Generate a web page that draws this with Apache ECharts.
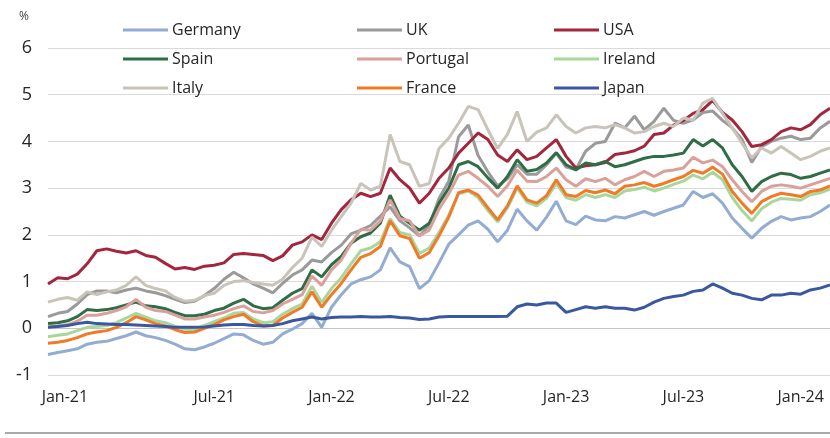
<!DOCTYPE html>
<html>
<head>
<meta charset="utf-8">
<script src="https://cdn.jsdelivr.net/npm/echarts@6/dist/echarts.min.js"></script>
<style>
  html, body { margin: 0; padding: 0; background: #fff; }
  #chart { width: 830px; height: 438px; }
</style>
</head>
<body>
<div id="chart"></div>
<script>
// half-monthly sample dates, 2020-10-16 .. 2024-02-16
var dates = [];
(function() {
  var y = 2020, m = 10, half = 1;
  while (dates.length < 81) {
    dates.push(y + '-' + (m < 10 ? '0' + m : m) + '-' + (half ? '16' : '01'));
    if (half) { half = 0; m++; if (m > 12) { m = 1; y++; } } else { half = 1; }
  }
})();

var tickDates = ['2021-01-01', '2021-07-01', '2022-01-01', '2022-07-01', '2023-01-01', '2023-07-01', '2024-01-01'];
var tickLabels = ['Jan-21', 'Jul-21', 'Jan-22', 'Jul-22', 'Jan-23', 'Jul-23', 'Jan-24'];

var germany = [-0.56,-0.52,-0.48,-0.44,-0.34,-0.30,-0.28,-0.22,-0.16,-0.08,-0.16,-0.20,-0.26,-0.34,
  -0.44,-0.46,-0.40,-0.32,-0.22,-0.12,-0.14,-0.26,-0.34,-0.30,-0.12,-0.02,0.10,0.32,
  0.02,0.45,0.72,0.95,1.04,1.10,1.25,1.72,1.42,1.32,0.85,1.02,1.40,1.80,
  2.00,2.21,2.30,2.12,1.85,2.10,2.55,2.30,2.10,2.38,2.72,2.30,2.22,
  2.40,2.32,2.30,2.39,2.36,2.43,2.50,2.42,2.50,2.57,2.64,2.93,2.80,2.88,2.68,
  2.36,2.14,1.93,2.14,2.29,2.39,2.32,2.36,2.39,2.50,2.64];
var uk = [0.25,0.32,0.36,0.52,0.72,0.80,0.80,0.76,0.82,0.86,0.80,0.76,0.70,0.62,
  0.55,0.58,0.70,0.85,1.05,1.20,1.08,0.95,0.86,0.76,0.96,1.14,1.25,1.46,
  1.42,1.62,1.78,2.02,2.10,2.20,2.40,2.60,2.30,2.15,1.98,2.20,2.78,3.15,
  4.10,4.35,3.70,3.35,3.05,3.20,3.50,3.30,3.30,3.50,3.75,3.45,3.40,
  3.79,3.96,4.00,4.39,4.29,4.54,4.25,4.43,4.71,4.45,4.39,4.46,4.62,4.65,4.45,
  4.29,4.04,3.55,3.89,4.00,4.07,4.11,4.04,4.07,4.29,4.43];
var usa = [0.95,1.08,1.06,1.16,1.38,1.66,1.70,1.65,1.61,1.66,1.56,1.52,1.39,1.27,
  1.30,1.26,1.33,1.35,1.40,1.58,1.60,1.58,1.56,1.45,1.55,1.78,1.85,2.00,
  1.90,2.25,2.54,2.75,2.89,2.82,2.89,3.43,3.18,3.00,2.68,2.89,3.21,3.43,
  3.75,3.96,4.18,4.04,3.71,3.57,3.82,3.61,3.68,3.86,4.04,3.68,3.43,
  3.48,3.50,3.55,3.72,3.75,3.80,3.90,4.15,4.18,4.35,4.45,4.60,4.68,4.88,4.62,
  4.46,4.21,3.89,3.93,4.04,4.21,4.29,4.25,4.36,4.57,4.71];
var spain = [0.10,0.12,0.16,0.25,0.40,0.38,0.40,0.44,0.50,0.56,0.48,0.46,0.42,0.34,
  0.27,0.27,0.30,0.38,0.43,0.54,0.62,0.48,0.42,0.44,0.60,0.75,0.85,1.25,
  1.10,1.36,1.54,1.82,1.96,2.04,2.25,2.85,2.40,2.25,2.10,2.25,2.68,3.00,
  3.50,3.57,3.46,3.22,3.00,3.25,3.61,3.36,3.40,3.54,3.76,3.50,3.39,
  3.54,3.50,3.57,3.46,3.50,3.57,3.64,3.68,3.68,3.71,3.75,4.04,3.90,4.04,3.86,
  3.50,3.25,2.93,3.14,3.25,3.32,3.29,3.21,3.25,3.32,3.39];
var portugal = [0.03,0.05,0.08,0.15,0.28,0.28,0.32,0.38,0.46,0.62,0.45,0.38,0.36,0.28,
  0.20,0.20,0.24,0.28,0.34,0.42,0.48,0.36,0.33,0.38,0.52,0.62,0.72,1.12,
  0.92,1.25,1.46,1.82,2.12,2.10,2.30,2.75,2.35,2.30,1.98,2.10,2.55,2.88,
  3.28,3.36,3.21,3.04,2.82,3.05,3.39,3.15,3.14,3.25,3.43,3.18,3.04,
  3.20,3.14,3.21,3.07,3.18,3.25,3.36,3.25,3.36,3.39,3.43,3.66,3.54,3.60,3.46,
  3.18,2.93,2.71,2.93,3.04,3.07,3.04,3.00,3.07,3.14,3.21];
var ireland = [-0.18,-0.15,-0.12,-0.05,0.02,0.04,0.06,0.12,0.22,0.32,0.24,0.16,0.12,0.04,
  -0.02,-0.02,0.06,0.14,0.22,0.32,0.34,0.20,0.12,0.14,0.30,0.42,0.52,0.90,
  0.55,0.85,1.08,1.38,1.66,1.72,1.85,2.35,2.05,2.00,1.60,1.72,2.05,2.42,
  2.88,2.94,2.80,2.52,2.28,2.58,3.00,2.70,2.62,2.78,3.10,2.80,2.74,
  2.86,2.80,2.86,2.80,2.94,2.97,3.02,2.94,3.00,3.08,3.15,3.28,3.20,3.34,3.18,
  2.80,2.52,2.30,2.56,2.70,2.78,2.76,2.74,2.86,2.90,2.98];
var italy = [0.56,0.62,0.66,0.60,0.78,0.72,0.78,0.82,0.92,1.10,0.92,0.85,0.80,0.66,
  0.58,0.60,0.70,0.75,0.92,1.00,1.02,0.98,0.95,0.92,1.05,1.30,1.50,1.95,
  1.75,2.10,2.39,2.68,3.10,2.96,3.04,4.15,3.57,3.50,3.04,3.10,3.85,4.07,
  4.39,4.75,4.68,4.25,3.85,4.15,4.64,4.00,4.20,4.29,4.57,4.32,4.18,
  4.29,4.32,4.29,4.36,4.29,4.18,4.21,4.32,4.39,4.32,4.50,4.46,4.82,4.92,4.60,
  4.29,3.96,3.65,3.86,3.75,3.89,3.75,3.61,3.68,3.79,3.86];
var france = [-0.32,-0.30,-0.26,-0.20,-0.12,-0.08,-0.05,0.02,0.12,0.25,0.18,0.10,0.05,-0.03,
  -0.09,-0.08,0.00,0.08,0.18,0.25,0.30,0.14,0.05,0.06,0.22,0.34,0.45,0.78,
  0.45,0.72,0.96,1.25,1.52,1.60,1.75,2.30,1.98,1.92,1.50,1.62,1.98,2.38,
  2.90,2.96,2.85,2.58,2.32,2.62,3.05,2.75,2.68,2.84,3.18,2.86,2.82,
  2.95,2.90,2.96,2.88,3.04,3.07,3.12,3.04,3.10,3.18,3.25,3.38,3.32,3.45,3.30,
  2.93,2.68,2.46,2.71,2.82,2.89,2.86,2.82,2.93,2.96,3.05];
var japan = [0.02,0.04,0.06,0.10,0.13,0.10,0.09,0.08,0.08,0.07,0.06,0.05,0.04,0.02,
  0.02,0.02,0.03,0.05,0.07,0.08,0.08,0.06,0.05,0.06,0.10,0.16,0.20,0.24,
  0.20,0.23,0.24,0.24,0.25,0.24,0.24,0.25,0.23,0.22,0.19,0.20,0.24,0.25,
  0.25,0.25,0.25,0.25,0.25,0.26,0.46,0.52,0.50,0.54,0.54,0.34,0.40,
  0.46,0.43,0.46,0.43,0.43,0.39,0.45,0.56,0.64,0.68,0.71,0.79,0.82,0.95,0.86,
  0.75,0.71,0.64,0.61,0.71,0.71,0.75,0.73,0.82,0.86,0.93];

var names = ['Germany', 'UK', 'USA', 'Spain', 'Portugal', 'Ireland', 'Italy', 'France', 'Japan'];
var values = [germany, uk, usa, spain, portugal, ireland, italy, france, japan];
var colors = ['#92acd3', '#9a9a9a', '#a3263f', '#2f6d47', '#daa09a', '#a8d69b', '#c9c4ba', '#f07a26', '#3a58a0'];

var font = '"Open Sans", sans-serif';
var ink = '#262626';

var chart = echarts.init(document.getElementById('chart'), null, { renderer: 'canvas' });

function legendCol(left, items) {
  return {
    data: items, orient: 'vertical', left: left, top: 20, padding: 0,
    itemGap: 9, itemWidth: 45, itemHeight: 3, icon: 'rect',
    textStyle: { fontFamily: font, fontSize: 16, color: ink, lineHeight: 20, padding: [0, 0, 0, -1] },
    selectedMode: false
  };
}

chart.setOption({
  animation: false,
  color: colors,
  grid: { left: 48, right: 0, top: 48, bottom: 63 },
  legend: [
    legendCol(123, ['Germany', 'Spain', 'Italy']),
    legendCol(357, ['UK', 'Portugal', 'France']),
    legendCol(554, ['USA', 'Ireland', 'Japan'])
  ],
  xAxis: {
    type: 'category',
    data: dates,
    boundaryGap: false,
    axisLine: { show: false },
    axisTick: { show: false },
    axisLabel: {
      interval: function(i, v) { return tickDates.indexOf(v) >= 0; },
      formatter: function(v) {
        var k = tickDates.indexOf(v);
        return k === 0 ? '{first|' + tickLabels[k] + '}' : tickLabels[k];
      },
      rich: { first: { padding: [0, 64, 0, 0], fontFamily: font, fontSize: 16, color: ink } },
      fontFamily: font, fontSize: 16, color: ink, margin: 14
    }
  },
  yAxis: {
    type: 'value', min: -1, max: 6, interval: 1,
    axisLine: { show: false }, axisTick: { show: false },
    axisLabel: { fontFamily: font, fontSize: 18, color: ink, margin: 16 },
    splitLine: { lineStyle: { color: ['#dadada', '#c4c4c4', '#dadada', '#dadada', '#dadada', '#dadada', '#dadada', '#dadada'], width: 1 } }
  },
  graphic: [
    { type: 'text', left: 19, top: 11, style: { text: '%', fontFamily: font, fontSize: 12, fill: '#444' } },
    { type: 'line', shape: { x1: 5, y1: 433, x2: 830, y2: 433 }, style: { stroke: '#8c8c8c', lineWidth: 1.5 } }
  ],
  series: names.map(function(n, k) {
    return {
      name: n, type: 'line', data: values[k], showSymbol: false,
      lineStyle: { width: 3, color: colors[k] }, itemStyle: { color: colors[k] },
      emphasis: { disabled: true }
    };
  })
});
</script>
</body>
</html>
